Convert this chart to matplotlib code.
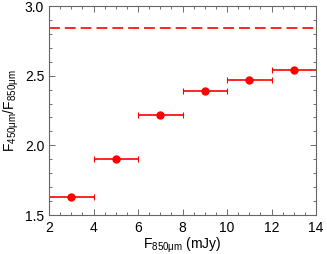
import matplotlib
matplotlib.use("Agg")
import matplotlib.pyplot as plt
from matplotlib.ticker import MultipleLocator

plt.rcParams['font.family'] = ['Liberation Sans', 'DejaVu Sans']
plt.rcParams['mathtext.fontset'] = 'custom'
plt.rcParams['mathtext.rm'] = 'Liberation Sans'
plt.rcParams['mathtext.it'] = 'Liberation Sans'

flux = [3, 5, 7, 9, 11, 13]
flux_err = [1, 1, 1, 1, 1, 1]
ratio = [1.63, 1.90, 2.22, 2.39, 2.47, 2.54]
ref_ratio = 2.84

fig = plt.figure(figsize=(3.27, 2.54), dpi=100)
ax = fig.add_axes([49/327, 1 - 215/254, (316-49)/327, (215-6)/254])
ax.errorbar(flux, ratio, xerr=flux_err, fmt='o', color='red', ms=5,
            elinewidth=1.2, capsize=2, capthick=0.8)
ax.axhline(ref_ratio, color='red', ls=(0, (6.5, 3)), lw=1.2)
ax.set_xlim(2, 14)
ax.set_ylim(1.5, 3.0)
ax.xaxis.set_major_locator(MultipleLocator(2))
ax.xaxis.set_minor_locator(MultipleLocator(0.5))
ax.yaxis.set_major_locator(MultipleLocator(0.5))
ax.yaxis.set_minor_locator(MultipleLocator(0.1))
ax.yaxis.set_major_formatter(matplotlib.ticker.FormatStrFormatter('%.1f'))
ax.tick_params(which='both', direction='in', top=True, right=True, labelsize=10, color='#555555')
ax.tick_params(which='major', length=4, width=0.6)
ax.tick_params(axis='x', which='major', pad=4.5)
ax.tick_params(which='minor', length=2, width=0.6)
for s in ax.spines.values():
    s.set_linewidth(0.8)
    s.set_color('#666666')
ax.set_xlabel(r'F$_{\mathrm{850\mu m}}$ (mJy)', fontsize=10, labelpad=0)
ax.set_ylabel(r'F$_{\mathrm{450\mu m}}$/F$_{\mathrm{850\mu m}}$', fontsize=10, labelpad=3)
fig.savefig('out.png', dpi=100)
